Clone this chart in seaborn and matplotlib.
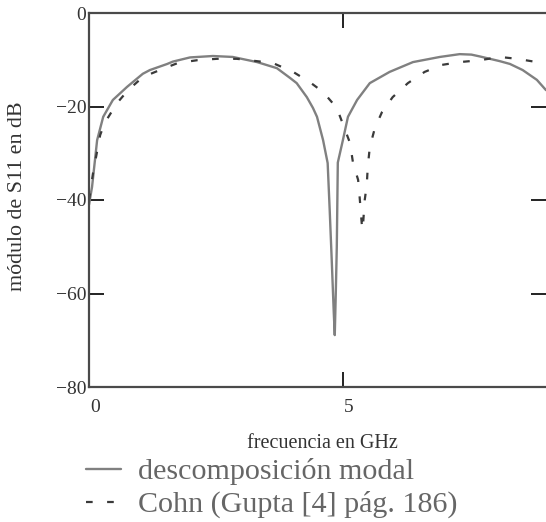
import numpy as np
import pandas as pd
import matplotlib
matplotlib.use("Agg")
import matplotlib.pyplot as plt
import matplotlib.transforms as mtransforms
import seaborn as sns

# ---- data ----
freq_modal = [0.0, 0.06, 0.16, 0.28, 0.47, 0.75, 1.06, 1.20, 1.54, 1.65, 1.99, 2.44,
              2.83, 3.31, 3.70, 3.96, 4.09, 4.29, 4.41, 4.49, 4.61, 4.70, 4.74, 4.78,
              4.82, 4.84, 4.86, 4.88, 4.90, 5.00, 5.10, 5.28, 5.53, 5.92, 6.38, 6.91,
              7.30, 7.53, 7.70, 8.09, 8.29, 8.54, 8.82, 9.0]
s11_modal = [-41.0, -37.2, -27.2, -22.2, -18.6, -15.8, -13.0, -12.2, -10.9, -10.4, -9.5, -9.2,
             -9.4, -10.5, -11.8, -13.9, -15.0, -18.0, -20.3, -22.2, -27.2, -32.1, -42.1, -52.8,
             -64.0, -68.9, -60.0, -50.0, -32.0, -27.2, -22.2, -18.6, -15.0, -12.6, -10.5, -9.4,
             -8.8, -8.9, -9.3, -10.3, -10.9, -12.2, -14.3, -16.5]

freq_cohn = [0.0, 0.08, 0.22, 0.31, 0.55, 0.77, 1.06, 1.44, 1.75, 2.13, 2.52, 2.91,
             3.62, 4.02, 4.35, 4.61, 4.88, 5.14, 5.20, 5.30, 5.33, 5.37, 5.39, 5.43,
             5.47, 5.49, 5.53, 5.63, 5.77, 5.98, 6.28, 6.61, 6.95, 7.30, 7.70, 8.09,
             8.43, 8.82, 9.0]
s11_cohn = [-40.0, -34.2, -26.1, -23.5, -19.3, -16.5, -13.7, -12.0, -10.7, -10.1, -9.8, -9.8,
            -10.7, -12.6, -14.8, -16.9, -20.3, -27.8, -32.1, -35.7, -39.4, -44.9, -46.4, -40.0,
            -36.8, -32.9, -28.7, -24.6, -21.2, -18.0, -15.0, -12.6, -11.1, -10.5, -10.1, -9.4,
            -9.8, -10.5, -10.7]

label_modal = "descomposición modal"
label_cohn = "Cohn (Gupta [4] pág. 186)"
x_ticks = [0, 5]
y_ticks = [0, -20, -40, -60, -80]

df_modal = pd.DataFrame({"f": freq_modal, "s": s11_modal})
df_cohn = pd.DataFrame({"f": freq_cohn, "s": s11_cohn})

sns.set_theme(style="white")
plt.rcParams["font.family"] = ["Liberation Serif", "DejaVu Serif"]

W, H = 546, 522
fig = plt.figure(figsize=(W / 100, H / 100), dpi=100)
ax = fig.add_axes([89 / W, 1 - 387 / H, (546 - 89) / W, (387 - 13) / H])

sns.lineplot(data=df_modal, x="f", y="s", ax=ax, color="#808080", linewidth=1.7,
             estimator=None, sort=False, label=label_modal)
sns.lineplot(data=df_cohn, x="f", y="s", ax=ax, color="#3a3a3a", linewidth=1.6,
             estimator=None, sort=False, label=label_cohn)
ax.lines[1].set_dashes([3.0, 6.5])

ax.set_xlim(0, 9.0)
ax.set_ylim(-80, 0)
ax.set_xticks(x_ticks)
ax.set_yticks(y_ticks)
ax.set_xticklabels([str(v) for v in x_ticks])
ax.set_yticklabels([str(v).replace("-", "\u2212") for v in y_ticks])

for side in ["left", "bottom", "top"]:
    ax.spines[side].set_visible(True)
    ax.spines[side].set_color("#4a4a4a")
    ax.spines[side].set_linewidth(1.6)
ax.spines["right"].set_visible(False)

ax.tick_params(axis="both", direction="in", length=11, width=1.4, color="#222222",
               labelsize=14, labelcolor="#333333")
ax.tick_params(axis="x", top=True, bottom=True, pad=9)
ax.tick_params(axis="y", left=True, right=True, pad=2)

offset = mtransforms.ScaledTranslation(6 / 100, 0, fig.dpi_scale_trans)
for lab in ax.get_xticklabels():
    lab.set_transform(lab.get_transform() + offset)

ax.set_xlabel("frecuencia en GHz", fontsize=14.5, color="#333333")
ax.set_ylabel("módulo de S11 en dB", fontsize=15.8, color="#333333")
ax.xaxis.set_label_coords(0.51, -0.125)
ax.yaxis.set_label_coords((27 - 89) / 457, 0.51)

ax.legend_.remove()
handles, labels = ax.get_legend_handles_labels()
leg = fig.legend(handles, labels, loc="upper left", bbox_to_anchor=(86 / W, 1 - 458 / H),
                 frameon=False, fontsize=21.6, handlelength=1.15, handletextpad=0.6,
                 labelspacing=0.2, borderpad=0, borderaxespad=0, labelcolor="#666666")

fig.savefig("out.png", dpi=100)
